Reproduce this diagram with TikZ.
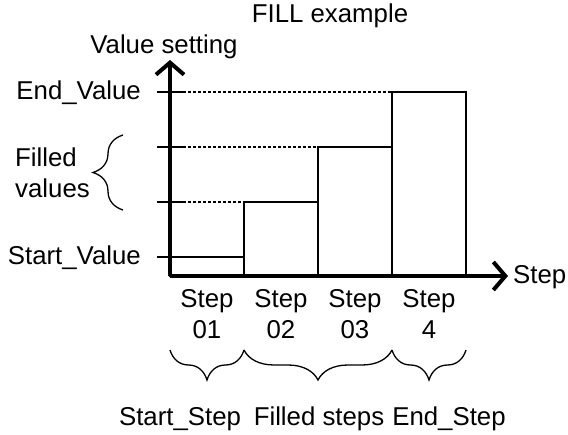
\documentclass[tikz,border=0pt]{standalone}
\usepackage{fontspec}
\setmainfont{Liberation Sans}
\usetikzlibrary{arrows.meta,decorations.pathreplacing}
\begin{document}
\begin{tikzpicture}[x=1pt,y=-1pt,
  lbl/.style={inner sep=0pt,font=\fontsize{25.8}{31}\selectfont},
  axisline/.style={line width=4pt,-{Straight Barb[length=12pt,width=28pt,line width=4pt]}},
  bar/.style={draw,line width=1.5pt},
  dotline/.style={line width=1.2pt,dash pattern=on 3pt off 2pt},
  tick/.style={line width=1.5pt},
  brc/.style={line width=1.3pt,decorate,decoration={brace,amplitude=30pt}}]
\useasboundingbox (0,0) rectangle (568,435);
% axes
\coordinate (O) at (170,276);
\coordinate (ytop) at (170,60);
\coordinate (xend) at (508,276);
% bars
\draw[bar] (170,257) rectangle (244,276);
\draw[bar] (244,202) rectangle (318,276);
\draw[bar] (318,147) rectangle (392,276);
\draw[bar] (392,92) rectangle (466,276);
% ticks
\coordinate (t1a) at (157,92);  \coordinate (t1b) at (183,92);
\coordinate (t2a) at (157,147); \coordinate (t2b) at (183,147);
\coordinate (t3a) at (157,202); \coordinate (t3b) at (183,202);
\coordinate (t4a) at (157,257); \coordinate (t4b) at (183,257);
\draw[tick] (t1a) -- (t1b);
\draw[tick] (t2a) -- (t2b);
\draw[tick] (t3a) -- (t3b);
\draw[tick] (t4a) -- (t4b);
% dotted guides
\coordinate (d1) at (392,92);
\coordinate (d2) at (318,147);
\coordinate (d3) at (244,202);
\draw[dotline] (t1b) -- (d1);
\draw[dotline] (t2b) -- (d2);
\draw[dotline] (t3b) -- (d3);
\draw[axisline] (O) -- (ytop);
\draw[axisline] (O) -- (xend);
% labels
\node[lbl] (title) at (330,16) {FILL example};
\node[lbl] (vset) at (164,47) {Value setting};
\node[lbl,anchor=west] (xlab) at (513,277) {Step};
\node[lbl,anchor=east] (endv) at (141,93) {End\_Value};
\node[lbl,anchor=east] (startv) at (141,258) {Start\_Value};
\node[lbl,align=left,anchor=west] (filled) at (15,173) {Filled\\values};
\coordinate (lb1) at (123,210);
\coordinate (lb2) at (123,135);
\draw[brc] (lb1) -- (lb2);
% step labels
\node[lbl,align=center] (s1) at (207,314) {Step\\01};
\node[lbl,align=center] (s2) at (281,314) {Step\\02};
\node[lbl,align=center] (s3) at (355,314) {Step\\03};
\node[lbl,align=center] (s4) at (429,314) {Step\\4};
% bottom braces
\coordinate (b0) at (170,350);
\coordinate (b1) at (244,350);
\coordinate (b2) at (392,350);
\coordinate (b3) at (466,350);
\draw[brc] (b1) -- (b0);
\draw[brc] (b2) -- (b1);
\draw[brc] (b3) -- (b2);
\node[lbl] (ss) at (180,419) {Start\_Step};
\node[lbl] (fs) at (319,419) {Filled steps};
\node[lbl] (es) at (449,419) {End\_Step};
\end{tikzpicture}
\end{document}
